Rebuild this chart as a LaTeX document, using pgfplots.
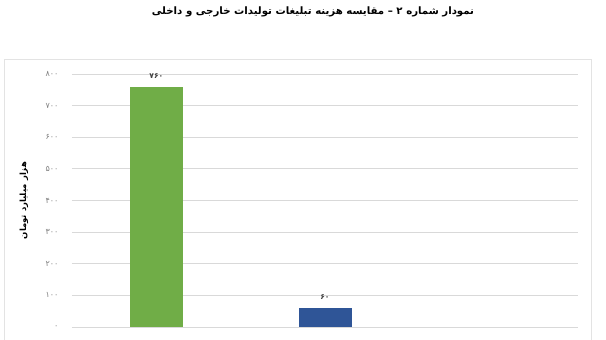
\documentclass[border=0pt]{standalone}
\usepackage{fontspec}
\usepackage{pgfplots}
\pgfplotsset{compat=1.18}
\TeXXeTstate=1
\newfontfamily\arabicfont[Script=Arabic]{DejaVu Sans}
\definecolor{barGreen}{HTML}{70AD47}
\definecolor{barBlue}{HTML}{2F5597}
\definecolor{gridc}{HTML}{D9D9D9}
\definecolor{framec}{HTML}{E3E3E3}
\definecolor{tickc}{HTML}{7F7F7F}
\begin{document}
\begin{tikzpicture}
\useasboundingbox (0pt,0pt) rectangle (606pt,340pt);
\draw[framec,line width=0.8pt] (4pt,-2pt) -- (4pt,281pt) -- (591.5pt,281pt) -- (591.5pt,-2pt);
\node[font=\arabicfont\bfseries\fontsize{10.2}{12}\selectfont] at (313pt,328pt) {\beginR نمودار شماره ۲ – مقایسه هزینه تبلیغات تولیدات خارجی و داخلی\endR};
\begin{axis}[
  at={(72pt,13pt)}, anchor=south west,
  scale only axis, width=506pt, height=253pt,
  xmin=-0.5, xmax=2.5, ymin=0, ymax=800,
  ytick={0,100,...,800},
  yticklabels={{۰},{۱۰۰},{۲۰۰},{۳۰۰},{۴۰۰},{۵۰۰},{۶۰۰},{۷۰۰},{۸۰۰}},
  yticklabel style={font=\arabicfont\fontsize{8}{9}\selectfont, text=tickc, xshift=-10pt},
  xtick=\empty,
  axis line style={draw=none},
  major tick length=0pt,
  ymajorgrids, grid style={gridc, line width=0.8pt},
  ybar, bar width=53pt, bar shift=0pt,
  ylabel={\arabicfont\bfseries\fontsize{8.5}{10}\selectfont\beginR هزار میلیارد تومان\endR},
  ylabel style={at={(axis description cs:-0.095,0.5)}, anchor=center},
  nodes near coords, point meta=explicit symbolic,
  every node near coord/.append style={font=\arabicfont\bfseries\fontsize{7.5}{8}\selectfont, text=black!75, yshift=5pt},
  clip=false,
]
\addplot[fill=barGreen, draw=none] coordinates {(0,760) [۷۶۰]};
\addplot[fill=barBlue, draw=none] coordinates {(1,60) [۶۰]};
\end{axis}
\end{tikzpicture}
\end{document}
